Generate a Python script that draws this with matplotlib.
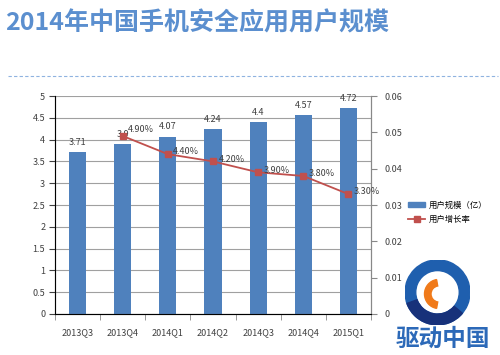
import matplotlib
matplotlib.use("Agg")
import matplotlib.pyplot as plt
from matplotlib.lines import Line2D
from matplotlib.patches import Patch, Wedge

plt.rcParams['font.family'] = ['Noto Sans CJK SC', 'DejaVu Sans']

# 数据
quarters = ["2013Q3", "2013Q4", "2014Q1", "2014Q2", "2014Q3", "2014Q4", "2015Q1"]
users = [3.71, 3.9, 4.07, 4.24, 4.4, 4.57, 4.72]
growth_q = ["2013Q4", "2014Q1", "2014Q2", "2014Q3", "2014Q4", "2015Q1"]
growth = [0.049, 0.044, 0.042, 0.039, 0.038, 0.033]
growth_labels = ["4.90%", "4.40%", "4.20%", "3.90%", "3.80%", "3.30%"]

bar_color = "#4f81bd"
line_color = "#c0504d"

fig = plt.figure(figsize=(5, 3.55), dpi=100)

# 标题
fig.text(0.01, 0.915, "2014年中国手机安全应用用户规模", fontsize=18,
         fontweight="bold", color="#5b8fcf", va="baseline")
fig.add_artist(Line2D([0.016, 0.996], [0.787, 0.787], transform=fig.transFigure,
                      color="#8fb3e0", lw=0.8, ls=(0, (3, 2))))

ax = fig.add_axes([0.11, 0.1155, 0.632, 0.614])
x = list(range(len(quarters)))
ax.bar(x, users, width=0.38, color=bar_color, zorder=2, label="用户规模（亿）")
ax.set_ylim(0, 5)
ax.set_xlim(-0.5, len(quarters) - 0.5)
ax.set_yticks([0, 0.5, 1, 1.5, 2, 2.5, 3, 3.5, 4, 4.5, 5])
ax.set_yticklabels(["0", "0.5", "1", "1.5", "2", "2.5", "3", "3.5", "4", "4.5", "5"])
ax.set_xticks(x)
ax.set_xticklabels(quarters)
ax.set_xticks([i + 0.5 for i in range(-1, len(quarters))], minor=True)
ax.tick_params(axis="x", which="major", length=0, pad=10)
ax.tick_params(axis="x", which="minor", length=4, color="#888888")
ax.tick_params(axis="y", length=4, color="#888888", pad=3)
ax.tick_params(labelsize=6.5, colors="#404040")
ax.grid(axis="y", color="#a0a0a0", lw=0.8, zorder=0)
ax.spines["top"].set_visible(False)
for s in ["left", "bottom", "right"]:
    ax.spines[s].set_color("#888888")
for xi, v in zip(x, users):
    ax.text(xi, v + 0.12, f"{v:g}", ha="center", va="bottom", fontsize=6.5, color="#404040")

ax2 = ax.twinx()
gx = [quarters.index(q) for q in growth_q]
ax2.plot(gx, growth, color=line_color, lw=1.3, marker="s", ms=4, zorder=3)
ax2.set_ylim(0, 0.06)
ax2.set_yticks([0, 0.01, 0.02, 0.03, 0.04, 0.05, 0.06])
ax2.set_yticklabels(["0", "0.01", "0.02", "0.03", "0.04", "0.05", "0.06"])
ax2.tick_params(axis="y", length=4, color="#888888", labelsize=6.5, colors="#404040", pad=6)
ax2.spines["top"].set_visible(False)
ax2.spines["right"].set_color("#888888")
for xi, g, lab in zip(gx, growth, growth_labels):
    ax2.text(xi + 0.12, g + 0.0006, lab, ha="left", va="bottom" if xi == 1 else "center",
             fontsize=6.5, color="#404040")

handles = [Patch(color=bar_color, label="用户规模（亿）"),
           Line2D([], [], color=line_color, marker="s", ms=4, lw=1.3, label="用户增长率")]
fig.legend(handles=handles, loc="upper left", bbox_to_anchor=(0.81, 0.445),
           frameon=False, fontsize=6, handlelength=2.0, handletextpad=0.5,
           labelspacing=0.7, borderaxespad=0)

# 水印
logo = fig.add_axes([0.81, 0.085, 0.13, 0.183])
logo.set_xlim(-1, 1)
logo.set_ylim(-1, 1)
logo.set_aspect("equal")
logo.axis("off")
logo.add_patch(Wedge((0, 0), 1.0, 0, 360, width=0.33, color="#1f5fae"))
logo.add_patch(Wedge((0, 0), 1.0, 200, 320, width=0.33, color="#17317a"))
logo.add_patch(Wedge((0.05, -0.05), 0.45, 100, 260, width=0.2, color="#f07a1a"))
fig.text(0.885, 0.045, "驱动中国", fontsize=17, fontweight="bold", color="#2c69b8",
         ha="center", va="center")

fig.savefig("out.png", dpi=100)
